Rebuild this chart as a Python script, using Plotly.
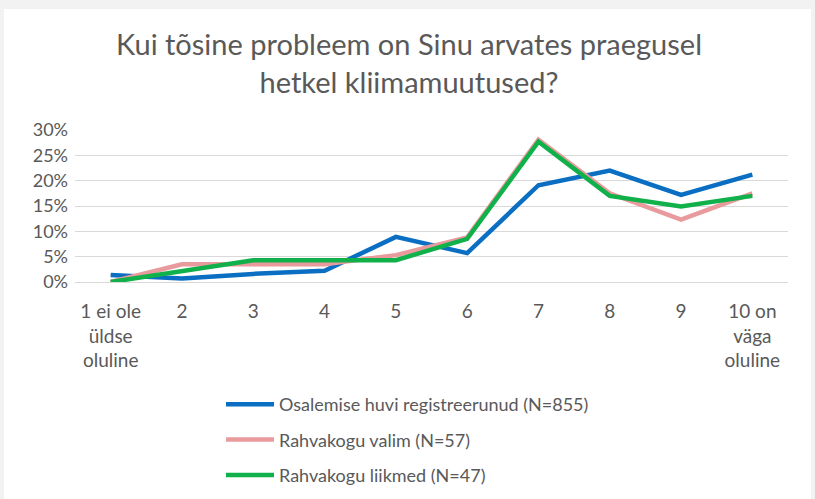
import plotly.graph_objects as go

categories = ["1 ei ole<br>üldse<br>oluline", "2", "3", "4", "5", "6", "7", "8", "9", "10 on<br>väga<br>oluline"]
osalemise = [1.4, 0.7, 1.6, 2.2, 8.9, 5.7, 19.1, 22.0, 17.2, 21.2]
valim = [0.0, 3.5, 3.5, 3.5, 5.3, 8.8, 28.1, 17.5, 12.3, 17.5]
liikmed = [0.0, 2.1, 4.3, 4.3, 4.3, 8.5, 27.7, 17.0, 14.9, 17.0]
series_names = ["Osalemise huvi registreerunud (N=855)", "Rahvakogu valim (N=57)", "Rahvakogu liikmed (N=47)"]
colors = ["#0A6FC2", "#E99A9C", "#10B04A"]
y_ticks = [0, 5, 10, 15, 20, 25, 30]
title_text = "Kui tõsine probleem on Sinu arvates praegusel<br>hetkel kliimamuutused?"

W, H = 815, 499
L, R, T, B = 75, 27, 130, 217
FONT = "Lato"
pw = W - L - R
ph = H - T - B


def px_x(px):
    return (px - L) / pw


def px_y(py):
    return (H - B - py) / ph


fig = go.Figure()
for i, (name, vals) in enumerate(zip(series_names, [osalemise, valim, liikmed])):
    fig.add_trace(go.Scatter(
        x=list(range(len(categories))), y=[v / 100 for v in vals], mode="lines", name=name,
        line=dict(color=colors[i], width=4.5), legendgroup=f"g{i}",
    ))

# white chart area inside a light grey frame
fig.add_shape(type="rect", xref="paper", yref="paper", layer="below",
              x0=px_x(4), x1=px_x(811), y0=px_y(499), y1=px_y(9),
              line=dict(width=0), fillcolor="white")

fig.add_annotation(text=title_text, xref="paper", yref="paper", x=px_x(409), y=px_y(24),
                   xanchor="center", yanchor="top", showarrow=False,
                   font=dict(family=FONT, size=29, color="#595959"))

fig.update_layout(
    width=W, height=H,
    margin=dict(l=L, r=R, t=T, b=B, autoexpand=False),
    paper_bgcolor="#F2F2F2", plot_bgcolor="white",
    font=dict(family=FONT, color="#595959", size=18),
    showlegend=True,
    legend=dict(orientation="v", x=px_x(221), xanchor="left", yref="container",
                y=1 - 386 / H, yanchor="top", tracegroupgap=9, itemwidth=48,
                font=dict(family=FONT, size=18, color="#595959"), bgcolor="rgba(0,0,0,0)"),
    xaxis=dict(tickmode="array", tickvals=list(range(len(categories))), ticktext=categories,
               range=[-0.5, len(categories) - 0.5], showgrid=False, zeroline=False,
               showline=False, ticks="", ticklabelstandoff=16, tickfont=dict(size=19)),
    yaxis=dict(range=[0, 0.3], tickvals=[v / 100 for v in y_ticks], tickformat=".0%",
               showgrid=True, gridcolor="#D9D9D9", gridwidth=1, zeroline=True,
               zerolinecolor="#D9D9D9", zerolinewidth=1, showline=False, ticks="",
               tickfont=dict(size=18), ticklabelstandoff=6),
)

fig.write_html("out.html", config={"displayModeBar": False},
               post_script="document.body.style.margin='0';")
